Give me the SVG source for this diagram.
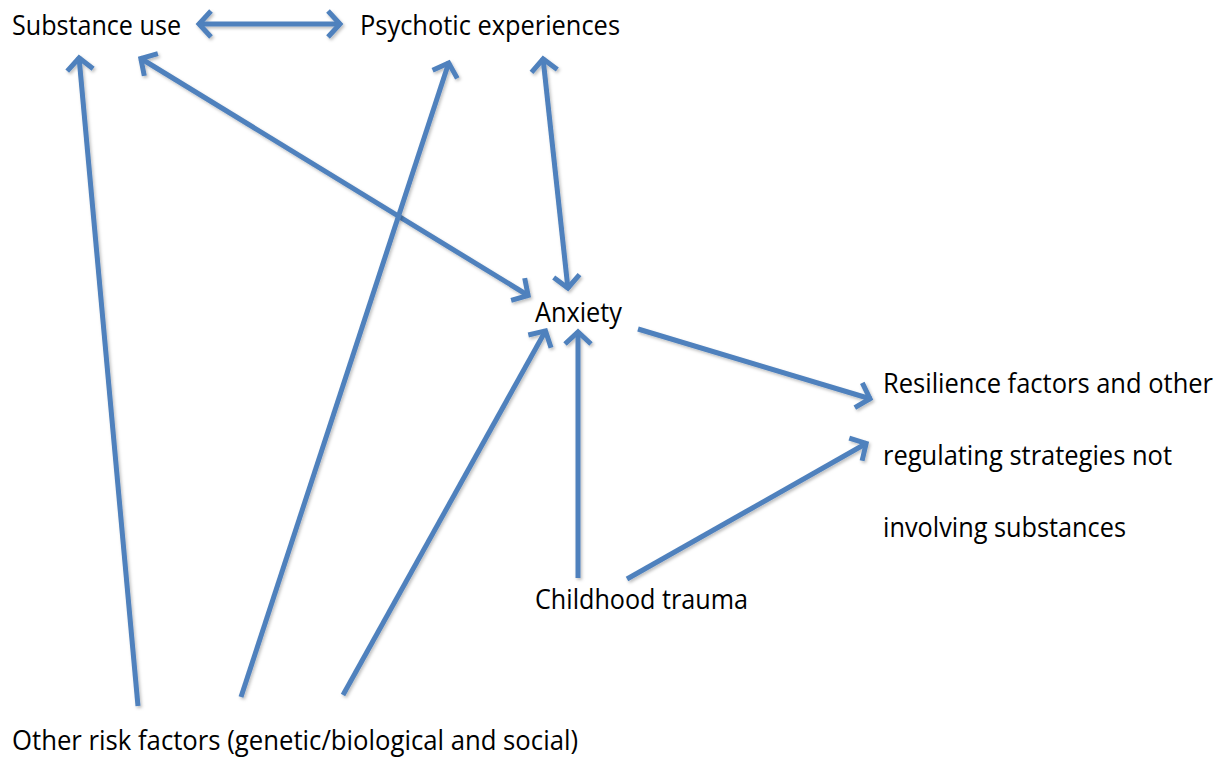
<svg xmlns="http://www.w3.org/2000/svg" width="1225" height="758" viewBox="0 0 1225 758">
  <style>
    .label { font-family: "Open Sans", "Liberation Sans", sans-serif; font-size: 27px; fill: #000; }
    .link { fill: none; stroke: #4F81BD; stroke-width: 5; filter: url(#shade); }
    .head { fill: none; stroke: #4F81BD; stroke-width: 5; stroke-linejoin: miter; stroke-linecap: butt; }
  </style>
  <defs>
    <filter id="shade" filterUnits="userSpaceOnUse" x="0" y="0" width="1225" height="758">
      <feDropShadow dx="1.5" dy="2" stdDeviation="1.5" flood-color="#000" flood-opacity="0.25"/>
    </filter>
    <marker id="tip" markerUnits="userSpaceOnUse" markerWidth="40" markerHeight="40" viewBox="-20 -20 40 40" refX="0" refY="0" orient="auto-start-reverse" overflow="visible">
      <path class="head" d="M -13,-13 L -1,0 L -13,13"/>
    </marker>
  </defs>

  <!-- nodes -->
  <g id="substance-use">
    <text class="label" x="12" y="35" textLength="169" lengthAdjust="spacingAndGlyphs">Substance use</text>
  </g>
  <g id="psychotic-experiences">
    <text class="label" x="360" y="35" textLength="260" lengthAdjust="spacingAndGlyphs">Psychotic experiences</text>
  </g>
  <g id="anxiety">
    <text class="label" x="535" y="322" textLength="87" lengthAdjust="spacingAndGlyphs">Anxiety</text>
  </g>
  <g id="resilience">
    <text class="label" x="883" y="393" textLength="330" lengthAdjust="spacingAndGlyphs">Resilience factors and other</text>
    <text class="label" x="883" y="465" textLength="289" lengthAdjust="spacingAndGlyphs">regulating strategies not</text>
    <text class="label" x="883" y="537" textLength="243" lengthAdjust="spacingAndGlyphs">involving substances</text>
  </g>
  <g id="childhood-trauma">
    <text class="label" x="535" y="609" textLength="213" lengthAdjust="spacingAndGlyphs">Childhood trauma</text>
  </g>
  <g id="other-risk-factors">
    <text class="label" x="12" y="750" textLength="566" lengthAdjust="spacingAndGlyphs">Other risk factors (genetic/biological and social)</text>
  </g>

  <!-- connectors -->
  <g id="connectors">
    <line class="link" x1="198" y1="24" x2="341" y2="24" marker-start="url(#tip)" marker-end="url(#tip)"/>
    <line class="link" x1="140" y1="58" x2="529" y2="296" marker-start="url(#tip)" marker-end="url(#tip)"/>
    <line class="link" x1="543" y1="58" x2="568" y2="289" marker-start="url(#tip)" marker-end="url(#tip)"/>
    <line class="link" x1="138" y1="706" x2="79" y2="57" marker-end="url(#tip)"/>
    <line class="link" x1="241" y1="697" x2="449" y2="62" marker-end="url(#tip)"/>
    <line class="link" x1="343" y1="695" x2="546" y2="330" marker-end="url(#tip)"/>
    <line class="link" x1="578" y1="578" x2="578" y2="331" marker-end="url(#tip)"/>
    <line class="link" x1="638" y1="329" x2="871" y2="399" marker-end="url(#tip)"/>
    <line class="link" x1="627" y1="579" x2="867" y2="443" marker-end="url(#tip)"/>
  </g>
</svg>
